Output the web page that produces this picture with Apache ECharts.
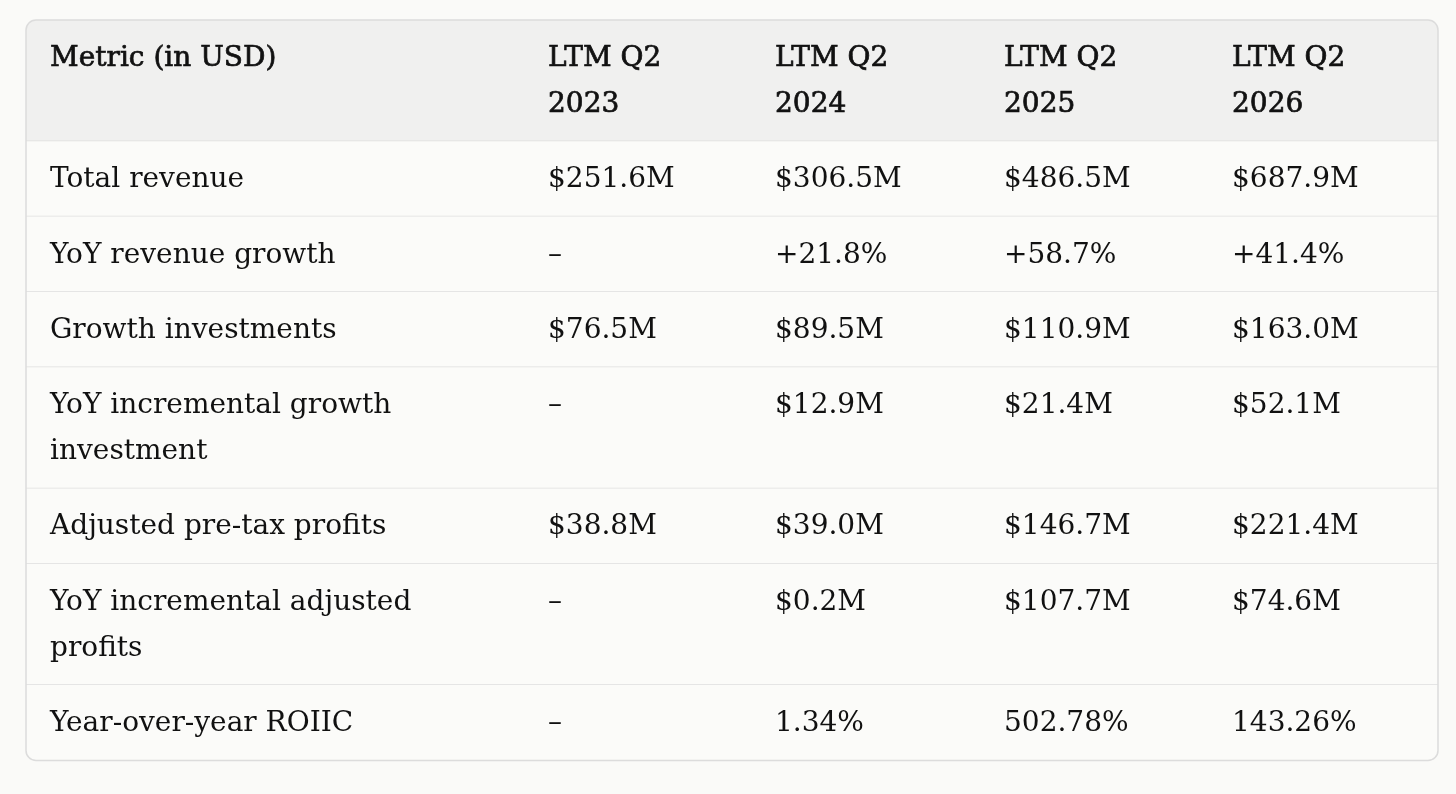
<!DOCTYPE html>
<html>
<head>
<meta charset="utf-8">
<style>
  html, body { margin: 0; padding: 0; background: #fafaf8; }
  #table-chart { width: 1456px; height: 794px; }
</style>
<script src="https://cdn.jsdelivr.net/npm/echarts@6/dist/echarts.min.js"></script>
</head>
<body>
<div id="table-chart"></div>
<script>
// Table data
var headerLabel = 'Metric (in USD)';
var periods = ['LTM Q2 2023', 'LTM Q2 2024', 'LTM Q2 2025', 'LTM Q2 2026'];
var metrics = [
  'Total revenue',
  'YoY revenue growth',
  'Growth investments',
  'YoY incremental growth investment',
  'Adjusted pre-tax profits',
  'YoY incremental adjusted profits',
  'Year-over-year ROIIC'
];
var totalRevenue = [251.6, 306.5, 486.5, 687.9];
var revenueGrowth = [null, 21.8, 58.7, 41.4];
var growthInvestments = [76.5, 89.5, 110.9, 163.0];
var incrementalInvestment = [null, 12.9, 21.4, 52.1];
var adjustedProfits = [38.8, 39.0, 146.7, 221.4];
var incrementalProfits = [null, 0.2, 107.7, 74.6];
var roiic = [null, 1.34, 502.78, 143.26];

// formatters
function money(v) { return v == null ? '–' : '$' + v.toFixed(1) + 'M'; }
function growth(v) { return v == null ? '–' : '+' + v.toFixed(1) + '%'; }
function pct(v) { return v == null ? '–' : v.toFixed(2) + '%'; }

var rows = [
  [headerLabel].concat(periods),
  [metrics[0]].concat(totalRevenue.map(money)),
  [metrics[1]].concat(revenueGrowth.map(growth)),
  [metrics[2]].concat(growthInvestments.map(money)),
  [metrics[3]].concat(incrementalInvestment.map(money)),
  [metrics[4]].concat(adjustedProfits.map(money)),
  [metrics[5]].concat(incrementalProfits.map(money)),
  [metrics[6]].concat(roiic.map(pct))
];

// layout
var colWidths = [498, 227, 229, 228, 230];
var padX = 24;
var padY = 29.3;
var lineH = 46;
var fontSize = 28;
var fontFamily = '"DejaVu Serif", serif';

// word wrap with canvas measuring
var ctx = document.createElement('canvas').getContext('2d');
function wrap(text, maxW, bold) {
  ctx.font = (bold ? 'bold ' : '') + fontSize + 'px ' + fontFamily;
  var words = text.split(' ');
  var lines = [];
  var cur = '';
  words.forEach(function (w) {
    var test = cur ? cur + ' ' + w : w;
    if (cur && ctx.measureText(test).width > maxW) {
      lines.push(cur);
      cur = w;
    } else {
      cur = test;
    }
  });
  lines.push(cur);
  return lines;
}

var wrapped = rows.map(function (r, ri) {
  return r.map(function (t, ci) {
    return wrap(t, colWidths[ci] - padX * 2, ri === 0);
  });
});
var rowHeights = wrapped.map(function (r) {
  var n = Math.max.apply(null, r.map(function (l) { return l.length; }));
  return n * lineH + padY;
});

var colEdges = [0];
colWidths.forEach(function (w, i) { colEdges.push(colEdges[i] + w); });
var rowEdges = [0];
rowHeights.forEach(function (h, i) { rowEdges.push(rowEdges[i] + h); });
var totalW = colEdges[colEdges.length - 1];
var totalH = rowEdges[rowEdges.length - 1];

var cells = [];
rows.forEach(function (r, ri) {
  r.forEach(function (t, ci) { cells.push([ci, ri]); });
});

var dom = document.getElementById('table-chart');
var myChart = echarts.init(dom, null, { renderer: 'canvas' });

var radius = 10;
var nCols = colWidths.length;
var nRows = rows.length;

var option = {
  backgroundColor: '#fafaf8',
  animation: false,
  grid: { left: 26, top: 20, width: totalW, height: totalH },
  xAxis: { type: 'value', min: 0, max: totalW, show: false },
  yAxis: { type: 'value', min: 0, max: totalH, inverse: true, show: false },
  series: [
    {
      type: 'custom',
      data: cells,
      renderItem: function (params, api) {
        var ci = api.value(0);
        var ri = api.value(1);
        var p0 = api.coord([colEdges[ci], rowEdges[ri]]);
        var p1 = api.coord([colEdges[ci + 1], rowEdges[ri + 1]]);
        var r = [0, 0, 0, 0];
        if (ri === 0 && ci === 0) r[0] = radius;
        if (ri === 0 && ci === nCols - 1) r[1] = radius;
        if (ri === nRows - 1 && ci === nCols - 1) r[2] = radius;
        if (ri === nRows - 1 && ci === 0) r[3] = radius;
        var children = [
          {
            type: 'rect',
            shape: { x: p0[0], y: p0[1], width: p1[0] - p0[0], height: p1[1] - p0[1], r: r },
            style: { fill: ri === 0 ? '#f0f0ef' : '#fbfbf9' }
          },
          {
            type: 'text',
            x: p0[0] + padX,
            y: p0[1] + padY / 2 + 1,
            style: {
              text: wrapped[ri][ci].join('\n'),
              fontFamily: fontFamily,
              fontSize: fontSize,
              fontWeight: 'normal',
              lineHeight: lineH,
              fill: '#111111',
              stroke: ri === 0 ? '#111111' : null,
              lineWidth: ri === 0 ? 0.7 : 0,
              align: 'left',
              verticalAlign: 'top'
            }
          }
        ];
        if (ri < nRows - 1) {
          children.push({
            type: 'line',
            shape: { x1: p0[0], y1: p1[1], x2: p1[0], y2: p1[1] },
            style: { stroke: '#dedede', lineWidth: 1.5 }
          });
        }
        return { type: 'group', children: children };
      }
    },
    {
      type: 'custom',
      data: [[0, 0]],
      z: 5,
      renderItem: function (params, api) {
        var p0 = api.coord([0, 0]);
        var p1 = api.coord([totalW, totalH]);
        return {
          type: 'rect',
          shape: { x: p0[0], y: p0[1], width: p1[0] - p0[0], height: p1[1] - p0[1], r: radius },
          style: { fill: null, stroke: '#dcdcdc', lineWidth: 1.5 }
        };
      }
    }
  ]
};

if (option && typeof option === 'object') {
  myChart.setOption(option);
}

window.addEventListener('resize', myChart.resize);
</script>
</body>
</html>
